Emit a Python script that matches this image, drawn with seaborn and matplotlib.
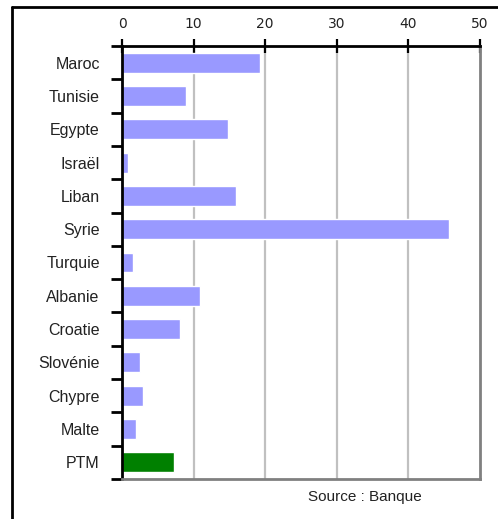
import matplotlib
matplotlib.use("Agg")
import matplotlib.pyplot as plt
import seaborn as sns
import pandas as pd
import numpy as np
from matplotlib.lines import Line2D

countries = ["Maroc", "Tunisie", "Egypte", "Israël", "Liban", "Syrie", "Turquie",
             "Albanie", "Croatie", "Slovénie", "Chypre", "Malte", "PTM"]
values = [19.3, 8.9, 14.8, 0.8, 15.9, 45.7, 1.6, 10.9, 8.1, 2.5, 3.0, 1.9, 7.25]
colors = ["#9999ff"] * 12 + ["#008000"]
x_ticks = [0, 10, 20, 30, 40, 50]
source_text = "Source : Banque"

sns.set_theme(style="white")
plt.rcParams['font.family'] = ['Liberation Sans', 'DejaVu Sans']

df = pd.DataFrame({"pays": countries, "valeur": values})

W, H = 498, 519
fig = plt.figure(figsize=(W / 100, H / 100), dpi=100)
ax = fig.add_axes([122 / W, 1 - 479 / H, (480 - 122) / W, (479 - 46) / H])

sns.barplot(data=df, x="valeur", y="pays", hue="pays", palette=colors,
            legend=False, width=0.6, ax=ax, saturation=1)

ax.set_xlim(0, 50)
ax.set_ylim(len(countries) - 0.5, -0.5)
ax.set_xlabel("")
ax.set_ylabel("")

# grid
for xv in x_ticks[1:-1]:
    ax.axvline(xv, color="#c0c0c0", lw=1.6, zorder=0)
ax.set_axisbelow(True)

# x axis on top
ax.xaxis.set_ticks_position("top")
ax.xaxis.set_label_position("top")
ax.set_xticks(x_ticks)
ax.set_xticklabels([str(v) for v in x_ticks], family="DejaVu Sans", fontsize=10, color="#222222")
ax.tick_params(axis="x", which="major", direction="inout", length=10, width=1.6,
               color="black", pad=6, top=True, bottom=False)

# y axis: ticks at boundaries, labels at centers
ax.set_yticks(np.arange(-0.5, len(countries) + 0.5, 1))
ax.set_yticklabels([])
ax.set_yticks(np.arange(len(countries)), minor=True)
ax.set_yticklabels(countries, minor=True, fontsize=11.5, color="#222222")
ax.tick_params(axis="y", which="major", direction="out", length=8, width=2, color="black", left=True)
ax.tick_params(axis="y", which="minor", length=0, pad=16, left=True)

for side in ["top", "left"]:
    ax.spines[side].set_color("black")
    ax.spines[side].set_linewidth(2)
for side in ["right", "bottom"]:
    ax.spines[side].set_color("#808080")
    ax.spines[side].set_linewidth(2)
    ax.spines[side].set_visible(True)

# outer frame (top and left lines)
fig.add_artist(Line2D([12 / W, 12 / W], [0, 1 - 7 / H], transform=fig.transFigure, color="black", lw=2))
fig.add_artist(Line2D([12 / W, 1], [1 - 7 / H, 1 - 7 / H], transform=fig.transFigure, color="black", lw=2))

fig.text(365 / W, 1 - 497 / H, source_text, ha="center", va="center", fontsize=11, color="#222222")

fig.savefig("out.png", dpi=100)
